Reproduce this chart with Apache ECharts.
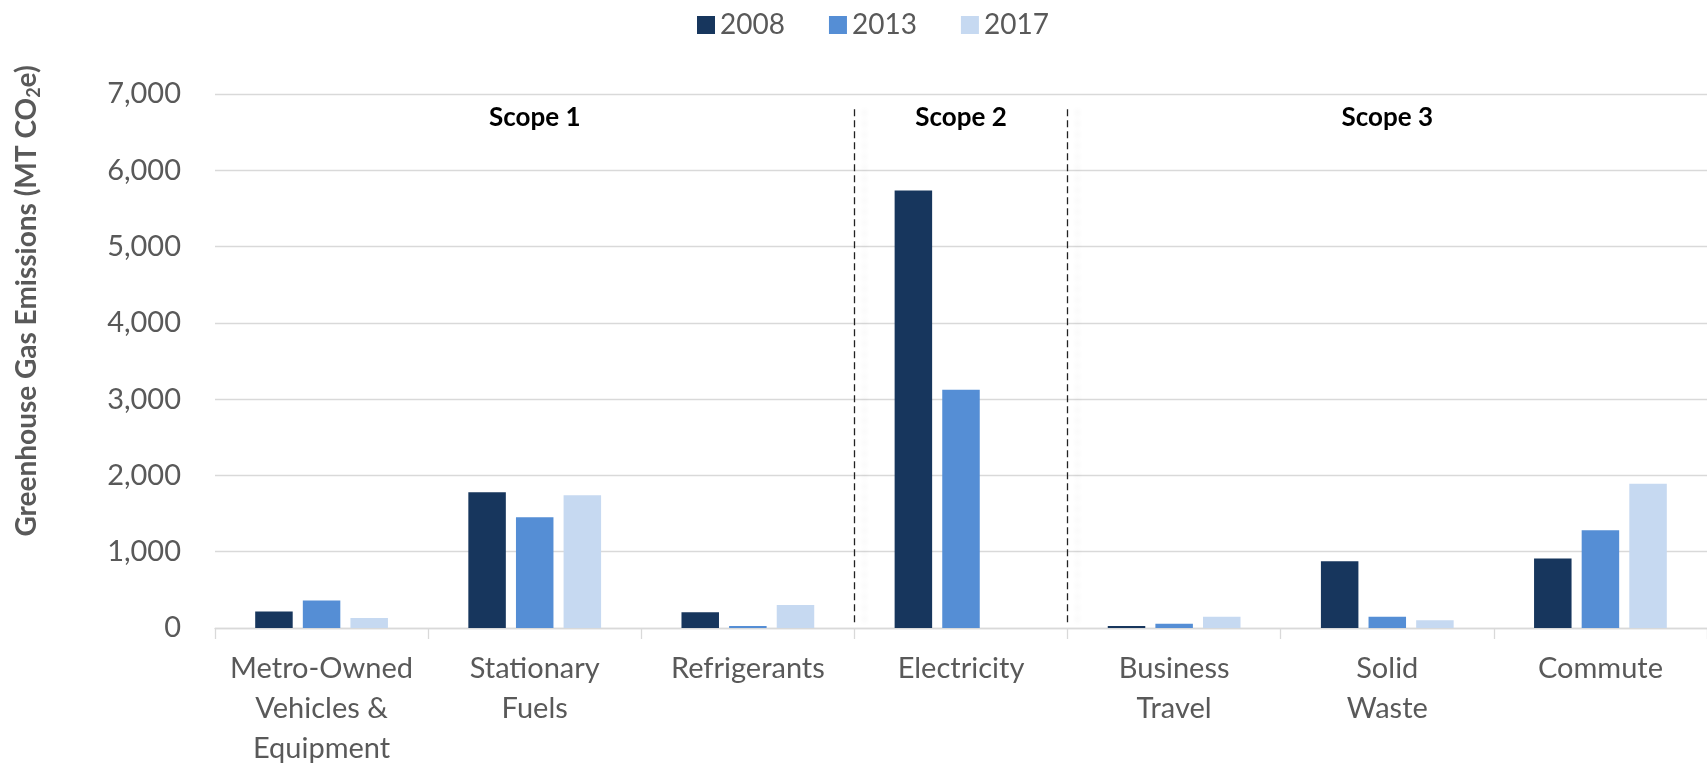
<!DOCTYPE html>
<html>
<head>
<meta charset="utf-8">
<title>Greenhouse Gas Emissions by Source</title>
<script src="https://cdn.jsdelivr.net/npm/echarts@6/dist/echarts.min.js"></script>
<style>
  html, body { margin: 0; padding: 0; background: #ffffff; }
  #chart { width: 1707px; height: 763px; }
</style>
</head>
<body>
<div id="chart"></div>
<script>
// Emission sources (category axis)
const categories = [
  'Metro-Owned\nVehicles &\nEquipment',
  'Stationary\nFuels',
  'Refrigerants',
  'Electricity',
  'Business\nTravel',
  'Solid\nWaste',
  'Commute'
];

// Inventory years
const years = ['2008', '2013', '2017'];

// Emissions in MT CO2e per source, one array per inventory year
const values2008 = [215, 1780, 205, 5735, 26, 875, 910];
const values2013 = [360, 1452, 25, 3123, 57, 149, 1282];
const values2017 = [131, 1741, 303, 0, 149, 103, 1890];

// Scope groupings: label and the [start, end) category range it covers
const scopeNames = ['Scope 1', 'Scope 2', 'Scope 3'];
const scopeStarts = [0, 3, 4];
const scopeEnds = [3, 4, 7];

// Value-axis ticks
const yMin = 0;
const yMax = 7000;
const yStep = 1000;

const colors = ['#17365d', '#558ed5', '#c6d9f1'];
const textGray = '#595959';
const gridGray = '#d9d9d9';
const fontFamily = 'Lato, "Open Sans", sans-serif';

const chart = echarts.init(document.getElementById('chart'));

// Dashed separators sit on the category boundaries between scopes
const dividerPositions = scopeStarts.slice(1);

const seriesValues = [values2008, values2013, values2017];

const barSeries = years.map((y, i) => ({
  name: y,
  type: 'bar',
  xAxisIndex: 0,
  yAxisIndex: 0,
  data: seriesValues[i],
  barWidth: 37.5,
  barGap: '27%',
  itemStyle: { color: colors[i] },
  emphasis: { disabled: true }
}));

const dividerSeries = {
  name: 'dividers',
  type: 'line',
  xAxisIndex: 1,
  yAxisIndex: 0,
  data: [],
  silent: true,
  markLine: {
    silent: true,
    symbol: ['none', 'none'],
    label: { show: false },
    lineStyle: {
      color: '#222222',
      width: 1.3,
      type: [7, 4],
      shadowColor: 'rgba(0,0,0,0.10)',
      shadowBlur: 5,
      shadowOffsetX: 10
    },
    data: dividerPositions.map(p => [
      { coord: [p, 6800] },
      { coord: [p, 60] }
    ])
  }
};

chart.setOption({
  backgroundColor: '#ffffff',
  animation: false,
  textStyle: { fontFamily: fontFamily },
  color: colors,
  legend: {
    data: years,
    left: 692,
    top: 6,
    itemWidth: 18,
    itemHeight: 18,
    itemGap: 44,
    icon: 'rect',
    selectedMode: false,
    textStyle: { fontSize: 28, color: textGray, fontFamily: fontFamily }
  },
  grid: {
    left: 215,
    right: 0,
    top: 94,
    bottom: 135,
    containLabel: false,
    outerBoundsMode: 'none'
  },
  xAxis: [
    {
      type: 'category',
      data: categories,
      axisLine: { show: true, lineStyle: { color: gridGray, width: 1.3 } },
      axisTick: { show: true, length: 11, interval: 0, lineStyle: { color: gridGray, width: 1.3 } },
      axisLabel: {
        interval: 0,
        margin: 21,
        fontSize: 29,
        lineHeight: 40,
        color: textGray,
        fontFamily: fontFamily
      },
      splitLine: { show: false }
    },
    {
      type: 'value',
      min: 0,
      max: categories.length,
      show: false
    }
  ],
  yAxis: {
    type: 'value',
    min: yMin,
    max: yMax,
    interval: yStep,
    axisLine: { show: false },
    axisTick: { show: false },
    axisLabel: {
      margin: 34,
      fontSize: 29,
      color: textGray,
      fontFamily: fontFamily,
      formatter: v => v.toLocaleString('en-US')
    },
    splitLine: { lineStyle: { color: gridGray, width: 1.3 } }
  },
  series: barSeries.concat([dividerSeries])
});

// Scope headings centred over the categories each scope covers
const scopeGraphics = scopeNames.map((name, i) => {
  const x0 = chart.convertToPixel({ xAxisIndex: 1 }, scopeStarts[i]);
  const x1 = chart.convertToPixel({ xAxisIndex: 1 }, scopeEnds[i]);
  return {
    type: 'text',
    x: (x0 + x1) / 2,
    y: 118,
    style: {
      text: name,
      fill: '#000000',
      font: 'bold 26px ' + fontFamily,
      align: 'center',
      verticalAlign: 'middle'
    },
    silent: true
  };
});

// Rotated value-axis title with subscripted CO2
const axisTitle = {
  type: 'text',
  x: 27,
  y: 301,
  rotation: Math.PI / 2,
  style: {
    text: '{t|Greenhouse Gas Emissions (MT CO}{s|2}{t|e)}',
    align: 'center',
    verticalAlign: 'middle',
    rich: {
      t: { fontSize: 28, fontWeight: 'bold', fill: textGray, fontFamily: fontFamily, verticalAlign: 'middle', lineHeight: 32 },
      s: { fontSize: 18, fontWeight: 'bold', fill: textGray, fontFamily: fontFamily, verticalAlign: 'bottom', lineHeight: 32 }
    }
  },
  silent: true
};

chart.setOption({ graphic: scopeGraphics.concat([axisTitle]) });
</script>
</body>
</html>
